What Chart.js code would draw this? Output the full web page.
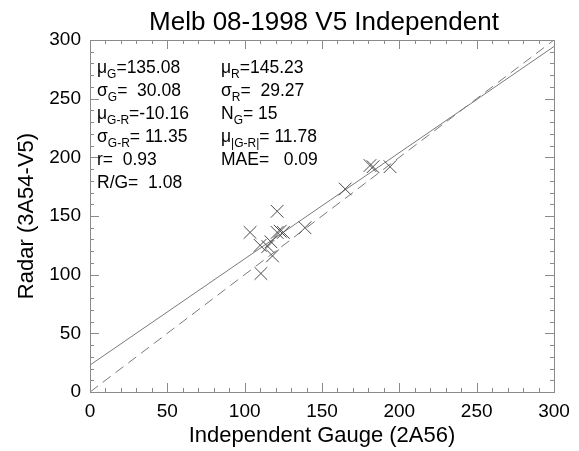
<!DOCTYPE html>
<html><head><meta charset="utf-8">
<script src="https://cdn.jsdelivr.net/npm/chart.js@4"></script>
<style>html,body{margin:0;padding:0;background:#fff}#c{display:block}</style>
</head><body>
<canvas id="c" width="579" height="451"></canvas>
<script>
const chartTitle = "Melb 08-1998 V5 Independent";
const xTitle = "Independent Gauge (2A56)";
const yTitle = "Radar (3A54-V5)";
const axisTicks = [0, 50, 100, 150, 200, 250, 300];
const gauge = [103.5, 121, 110.5, 110, 115, 117, 118, 121, 123, 125, 139, 165, 181, 183, 194];
const radar = [136, 154, 101, 125, 124, 128, 116, 136, 137, 136, 140, 173, 193, 192, 192];
const fitIntercept = 22.98;
const fitSlope = 0.905;
const lineX = [0, 300];
const statsLeft = [
  ["\u03BC","G","=135.08"],
  ["\u03C3","G","=  30.08"],
  ["\u03BC","G-R","=-10.16"],
  ["\u03C3","G-R","= 11.35"],
  ["r=  0.93","",""],
  ["R/G=  1.08","",""]
];
const statsRight = [
  ["\u03BC","R","=145.23"],
  ["\u03C3","R","=  29.27"],
  ["N","G","= 15"],
  ["\u03BC","|G-R|","= 11.78"],
  ["MAE=   0.09","",""]
];

const FONT = "'Liberation Sans', Arial, Helvetica, sans-serif";
const pts = gauge.map((g,i)=>({x:g, y:radar[i]}));
const fitPts = lineX.map(x=>({x:x, y:fitIntercept + fitSlope*x}));
const onePts = lineX.map(x=>({x:x, y:x}));

const framePlugin = {
  id:'frame',
  afterDraw(chart){
    const ctx = chart.ctx, a = chart.chartArea;
    const xs = chart.scales.x, ys = chart.scales.y;
    ctx.save();
    ctx.strokeStyle = '#8a8a8a';
    ctx.lineWidth = 1;
    ctx.strokeRect(Math.round(a.left)+0.5, Math.round(a.top)+0.5, Math.round(a.right-a.left), Math.round(a.bottom-a.top));
    ctx.beginPath();
    for (let v=0; v<=300; v+=10){
      const len = (v%50===0) ? 9 : 4;
      const px = Math.round(xs.getPixelForValue(v))+0.5;
      ctx.moveTo(px, a.bottom); ctx.lineTo(px, a.bottom-len);
      ctx.moveTo(px, a.top); ctx.lineTo(px, a.top+len);
      const py = Math.round(ys.getPixelForValue(v))+0.5;
      ctx.moveTo(a.left, py); ctx.lineTo(a.left+len, py);
      ctx.moveTo(a.right, py); ctx.lineTo(a.right-len, py);
    }
    ctx.stroke();
    // title
    ctx.fillStyle = '#000';
    ctx.font = "26px " + FONT;
    ctx.textAlign = 'center';
    ctx.textBaseline = 'alphabetic';
    ctx.fillText(chartTitle, (a.left+a.right)/2 + 2, 30);
    // stats
    const drawCol = (rows, x0) => {
      rows.forEach((r,i)=>{
        const y = 73 + i*23;
        let x = x0;
        ctx.textAlign = 'left';
        ctx.font = "17.5px " + FONT;
        ctx.fillText(r[0], x, y); x += ctx.measureText(r[0]).width;
        if (r[1]) {
          ctx.font = "12px " + FONT;
          ctx.fillText(r[1], x, y+5); x += ctx.measureText(r[1]).width;
        }
        if (r[2]) {
          ctx.font = "17.5px " + FONT;
          ctx.fillText(r[2], x, y);
        }
      });
    };
    drawCol(statsLeft, 97);
    drawCol(statsRight, 221);
    ctx.restore();
  }
};

new Chart(document.getElementById('c'), {
  type:'scatter',
  data:{datasets:[
    {data:pts, showLine:false, pointStyle:'crossRot', pointRadius:9, pointBorderWidth:1,
     borderColor:'#4a4a4a', backgroundColor:'#4a4a4a', order:0},
    {type:'line', data:fitPts, borderColor:'#7a7a7a', borderWidth:1, pointRadius:0, fill:false, order:1},
    {type:'line', data:onePts, borderColor:'#7a7a7a', borderWidth:1, borderDash:[10,6], pointRadius:0, fill:false, order:2}
  ]},
  options:{
    responsive:false, animation:false,
    layout:{padding:{top:40, right:25, left:0, bottom:0}},
    plugins:{legend:{display:false}, tooltip:{enabled:false}},
    scales:{
      x:{type:'linear', min:0, max:300,
         afterBuildTicks(s){ s.ticks = axisTicks.map(v=>({value:v})); },
         afterFit(s){ s.height = 59; },
         grid:{display:false, drawTicks:false}, border:{display:false},
         ticks:{color:'#000', font:{family:FONT, size:19}, padding:8, maxRotation:0, autoSkip:false},
         title:{display:true, text:xTitle, color:'#000', font:{family:FONT, size:22}, padding:{top:0,bottom:2}}},
      y:{type:'linear', min:0, max:300,
         afterBuildTicks(s){ s.ticks = axisTicks.map(v=>({value:v})); },
         afterFit(s){ s.width = 90; },
         grid:{display:false, drawTicks:false}, border:{display:false},
         ticks:{color:'#000', font:{family:FONT, size:19}, padding:9, autoSkip:false},
         title:{display:true, text:yTitle, color:'#000', font:{family:FONT, size:22}, padding:{top:14,bottom:0}}}
    }
  },
  plugins:[framePlugin]
});
</script>
</body></html>
